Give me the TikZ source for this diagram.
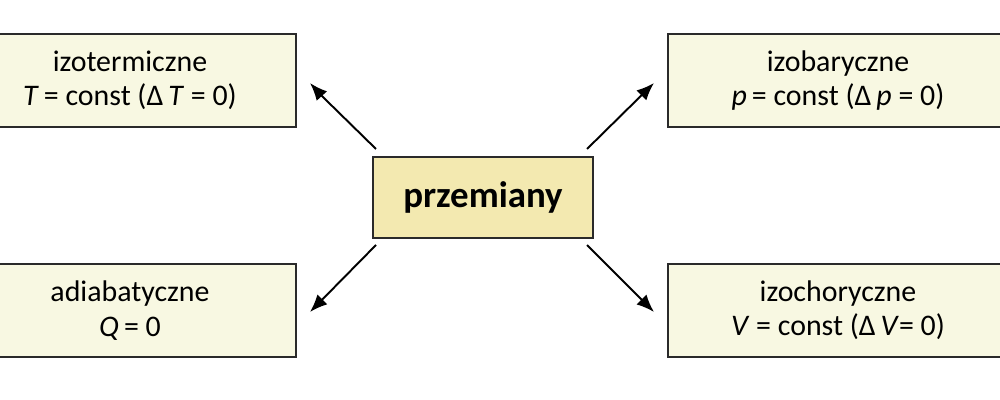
\documentclass[tikz,border=0pt]{standalone}
\usepackage{fontspec}
\setmainfont{Carlito}
\usetikzlibrary{positioning,calc,arrows.meta}
\definecolor{boxfill}{HTML}{F8F8E2}
\definecolor{mainfill}{HTML}{F3E9B0}
\definecolor{boxline}{HTML}{2A2A2A}

\begin{document}
\begin{tikzpicture}[align=center]
    \tikzstyle{proc} = [draw=boxline,line width=1pt,fill=boxfill,minimum height=1.86cm,inner sep=0pt,font=\fontsize{17}{19.5}\selectfont]
    \tikzstyle{main} = [draw=boxline,line width=1pt,fill=mainfill,minimum width=4.4cm,minimum height=1.62cm,font=\fontsize{21}{24}\selectfont\bfseries]
    \tikzstyle{link} = [-{Latex[length=10pt,width=8pt]},line width=1.1pt]
      \useasboundingbox (0,0) rectangle (20,8);
      \node[main] (przem) at (9.66,4.05) {przemiany};
      \node[proc,minimum width=6.64cm] (izoterm) at (2.60,6.39) {izotermiczne\\\textit{T}\,= const (Δ\,\textit{T} = 0)};
      \node[proc,minimum width=6.8cm] (izobar) at (16.76,6.39) {izobaryczne\\\textit{p}\,= const (Δ\,\textit{p} = 0)};
      \node[proc,minimum width=6.64cm] (adiab) at (2.60,1.79) {adiabatyczne\\\textit{Q}\,= 0};
      \node[proc,minimum width=6.8cm] (izochor) at (16.76,1.79) {izochoryczne\\\textit{V} = const (Δ\,\textit{V}= 0)};
      \coordinate (tlA) at (7.52,5.02); \coordinate (tlB) at (6.20,6.34);
      \coordinate (trA) at (11.74,5.02); \coordinate (trB) at (13.08,6.34);
      \coordinate (blA) at (7.52,3.10); \coordinate (blB) at (6.20,1.76);
      \coordinate (brA) at (11.74,3.10); \coordinate (brB) at (13.08,1.76);
      \foreach \a/\b in {tlA/tlB,trA/trB,blA/blB,brA/brB} \draw[link] (\a) -- (\b);
  \end{tikzpicture}
\end{document}
